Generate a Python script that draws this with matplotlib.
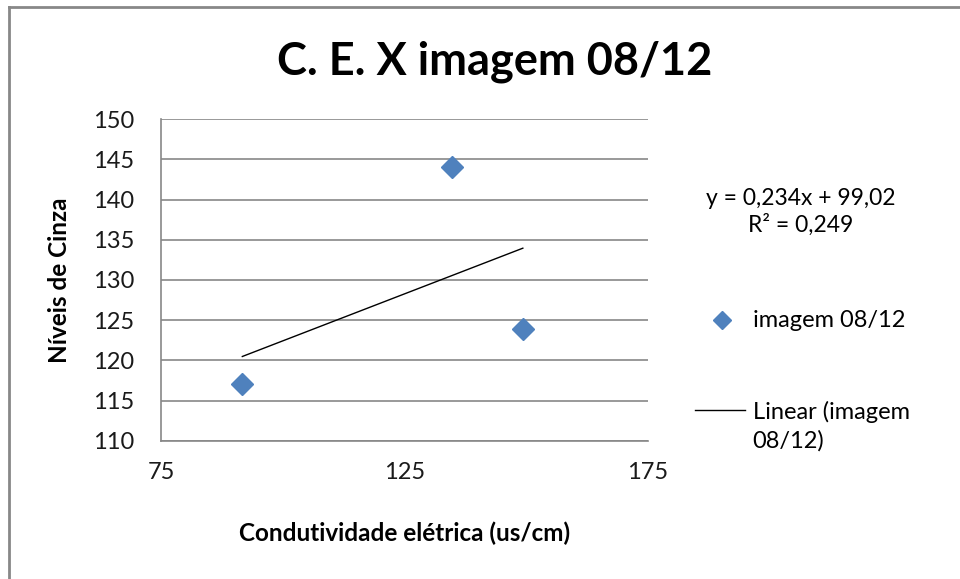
import matplotlib
matplotlib.use('Agg')
import matplotlib.pyplot as plt
from matplotlib.lines import Line2D

plt.rcParams['font.family'] = ['Lato', 'DejaVu Sans']

# data
condutividade = [91.7, 134.7, 149.3]
niveis_cinza = [117.1, 144.1, 123.9]
slope = 0.234
intercept = 99.02
r2_text = 'R² = 0,249'
eq_text = 'y = 0,234x + 99,02'
serie_label = 'imagem 08/12'
trend_label = 'Linear (imagem\n08/12)'
x_ticks = [75, 125, 175]
y_ticks = [110, 115, 120, 125, 130, 135, 140, 145, 150]

blue = '#4F81BD'
grid_gray = '#878787'

fig = plt.figure(figsize=(9.6, 5.79), dpi=100)
ax = fig.add_axes([0.1677, 0.2389, 0.5073, 0.5551])

ax.plot(condutividade, niveis_cinza, linestyle='none', marker='D', markersize=11,
        color=blue, zorder=3)

x_fit = [min(condutividade), max(condutividade)]
y_fit = [slope * v + intercept for v in x_fit]
ax.plot(x_fit, y_fit, color='black', linewidth=1, zorder=2)

ax.set_xlim(75, 175)
ax.set_ylim(110, 150)
ax.set_xticks(x_ticks)
ax.set_yticks(y_ticks)
ax.yaxis.grid(True, color=grid_gray, linewidth=1.2)
ax.set_axisbelow(True)
for side in ['top', 'right']:
    ax.spines[side].set_visible(False)
for side in ['left', 'bottom']:
    ax.spines[side].set_color(grid_gray)
    ax.spines[side].set_linewidth(1.2)
ax.tick_params(axis='both', length=0, labelsize=17, colors='#1a1a1a')
ax.tick_params(axis='y', pad=19)
ax.tick_params(axis='x', pad=15)

ax.set_xlabel('Condutividade elétrica (us/cm)', fontsize=17.5, fontweight='bold', labelpad=28)
ax.set_ylabel('Níveis de Cinza', fontsize=17.5, fontweight='bold', labelpad=16)

fig.text(0.515, 0.893, 'C. E. X imagem 08/12', fontsize=32.5, fontweight='bold',
         ha='center', va='center')

fig.text(0.834, 0.634, eq_text + '\n' + r2_text, fontsize=16.5, ha='center', va='center',
         linespacing=1.3)

# legend drawn by hand to keep the trend key on the first text line, as in the original
fig.add_artist(Line2D([0.7521], [0.4473], linestyle='none', marker='D', markersize=9,
                      color=blue))
fig.text(0.784, 0.4473, serie_label, fontsize=17, ha='left', va='center')
fig.add_artist(Line2D([0.724, 0.776], [0.2919, 0.2919], color='black', linewidth=1))
fig.text(0.784, 0.264, trend_label, fontsize=17, ha='left', va='center', linespacing=1.36)

# chart area border (left and top)
fig.add_artist(Line2D([0.0094, 0.0094], [0, 0.988], color='#888888', linewidth=2))
fig.add_artist(Line2D([0.0094, 1], [0.988, 0.988], color='#888888', linewidth=2))

fig.savefig('out.png', dpi=100)
